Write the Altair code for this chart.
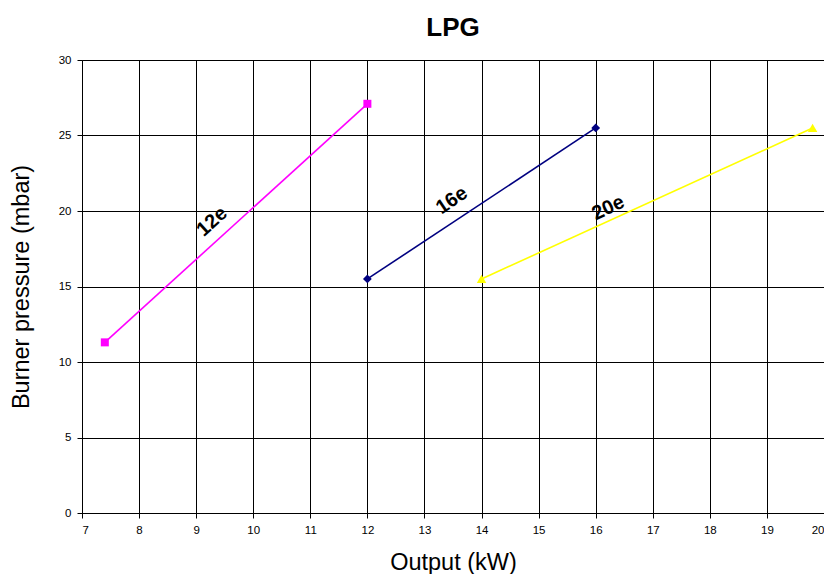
import altair as alt
import pandas as pd

series = ["12e", "16e", "20e"]
x_12e = [7.4, 12.0]
y_12e = [11.3, 27.1]
x_16e = [12.0, 16.0]
y_16e = [15.5, 25.5]
x_20e = [14.0, 19.8]
y_20e = [15.5, 25.5]
colors = ["#FF00FF", "#000080", "#FFFF00"]
shapes = ["square", "diamond", "triangle-up"]
marker_sizes = [64, 90, 100]

x_ticks = [7, 8, 9, 10, 11, 12, 13, 14, 15, 16, 17, 18, 19, 20]
y_ticks = [0, 5, 10, 15, 20, 25, 30]

label_x = [9.28, 13.48, 16.22]
label_y = [19.3, 20.7, 20.2]
label_angle = [318, 326, 335]

rows = []
for s, xs, ys in zip(series, [x_12e, x_16e, x_20e], [y_12e, y_16e, y_20e]):
    for xv, yv in zip(xs, ys):
        rows.append({"series": s, "x": xv, "y": yv})
df = pd.DataFrame(rows)
lab = pd.DataFrame({"series": series, "x": label_x, "y": label_y, "angle": label_angle})

xscale = alt.Scale(domain=[7, 20], nice=False, zero=False)
yscale = alt.Scale(domain=[0, 30], nice=False)
cscale = alt.Scale(domain=series, range=colors)
sscale = alt.Scale(domain=series, range=shapes)
zscale = alt.Scale(domain=series, range=marker_sizes)

x_axis = alt.Axis(
    title="Output (kW)", values=x_ticks, format="d", labelOverlap=False,
    grid=True, gridColor="#000000", gridOpacity=1, gridWidth=1,
    domainColor="#000000", tickColor="#000000", tickSize=5,
    labelFont="Liberation Sans", labelFontSize=11.5, labelColor="#000000", labelPadding=6,
    titleFont="Liberation Sans", titleFontSize=23.5, titleFontWeight="normal", titleColor="#000000",
    titlePadding=15)
y_axis = alt.Axis(
    title="Burner pressure (mbar)", values=y_ticks, labelOverlap=False,
    grid=True, gridColor="#000000", gridOpacity=1, gridWidth=1,
    domainColor="#000000", tickColor="#000000", tickSize=5,
    labelFont="Liberation Sans", labelFontSize=11.5, labelColor="#000000", labelPadding=6,
    titleFont="Liberation Sans", titleFontSize=23.5, titleFontWeight="normal", titleColor="#000000",
    titlePadding=25)

x_enc = alt.X("x:Q", scale=xscale, axis=x_axis)
y_enc = alt.Y("y:Q", scale=yscale, axis=y_axis)

base = alt.Chart(df)
lines = base.mark_line(strokeWidth=1.6).encode(
    x=x_enc, y=y_enc,
    color=alt.Color("series:N", scale=cscale, legend=None),
    detail="series:N",
)
points = base.mark_point(filled=True, opacity=1).encode(
    x=x_enc, y=y_enc,
    color=alt.Color("series:N", scale=cscale, legend=None),
    shape=alt.Shape("series:N", scale=sscale, legend=None),
    size=alt.Size("series:N", scale=zscale, legend=None),
)
texts = alt.Chart(lab).mark_text(font="Liberation Sans", fontSize=20, fontWeight="bold", color="#000000").encode(
    x=x_enc, y=y_enc, text="series:N", angle=alt.Angle("angle:Q", scale=None),
)

chart = alt.layer(lines, points, texts).properties(
    width=742, height=453,
    title=alt.TitleParams("LPG", font="Liberation Sans", fontSize=26, fontWeight="bold", color="#000000", offset=13),
    autosize=alt.AutoSizeParams(type="none"),
    padding={"left": 74, "top": 52, "right": 0, "bottom": 61},
).configure_view(stroke=None).configure(background="white")

chart.save("out.html", embed_options={"renderer": "svg", "actions": False})
